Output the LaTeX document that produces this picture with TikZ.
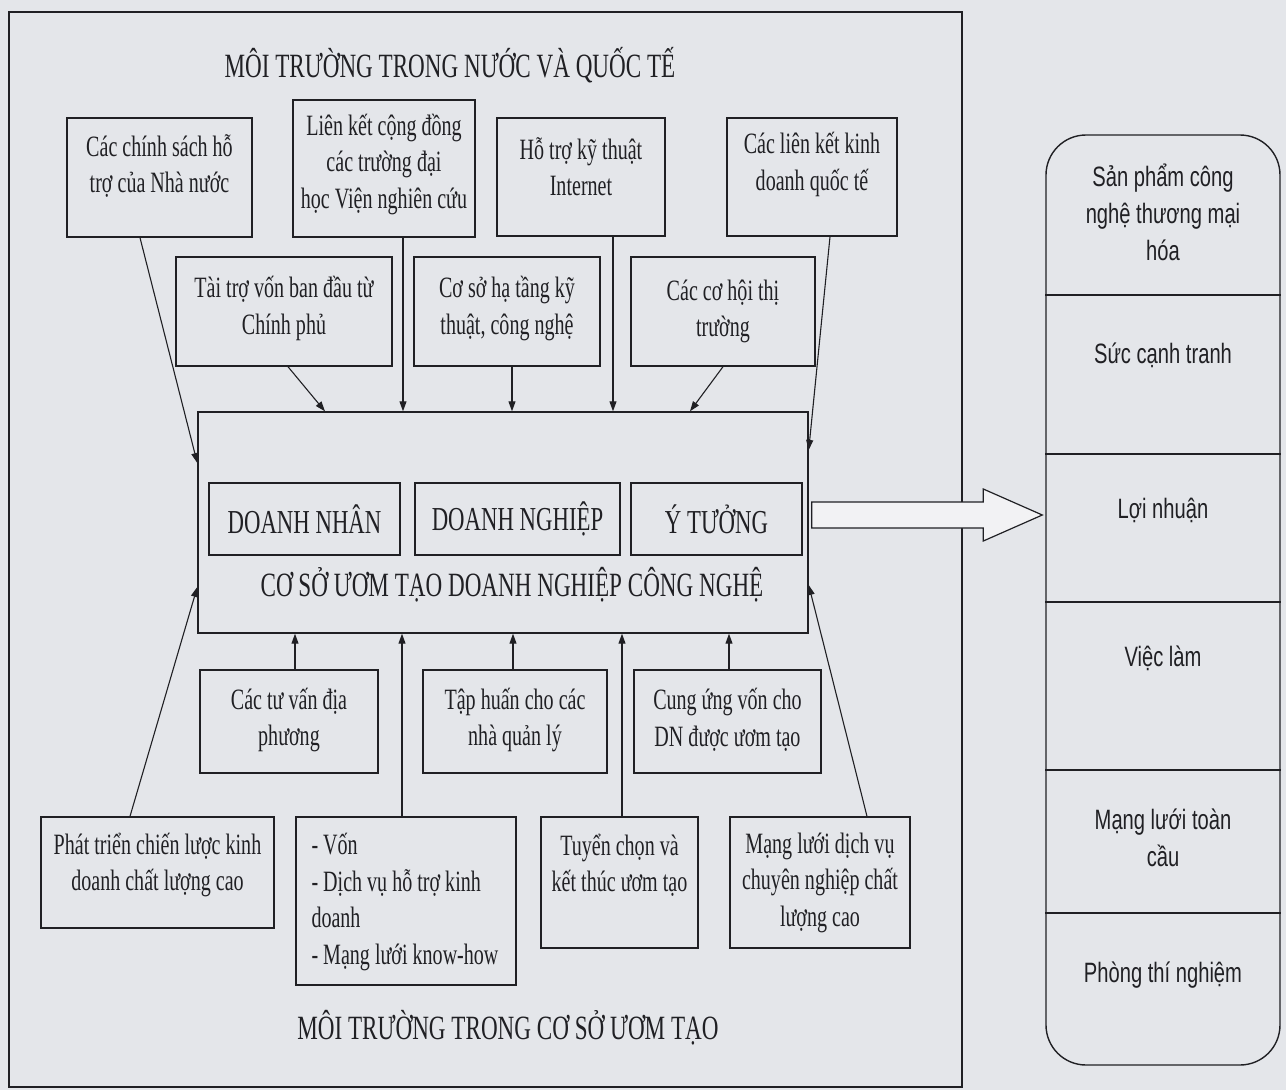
\documentclass[tikz,border=0pt]{standalone}
\usepackage{fontspec}
\setmainfont{Liberation Serif}
\newfontfamily\cserif[FakeStretch=0.68]{Liberation Serif}
\newfontfamily\csans[FakeStretch=0.72]{Liberation Sans}
\usetikzlibrary{arrows.meta,calc}
\definecolor{bg}{RGB}{228,230,234}
\definecolor{ink}{RGB}{32,32,36}
\begin{document}
\begin{tikzpicture}[x=1pt,y=-1pt,
  bx/.style={draw=ink, line width=1.4pt, inner sep=0pt},
  tx/.style={text=ink, align=center, inner sep=0pt, font={\cserif\fontsize{29.5}{36.5}\selectfont}},
  ttl/.style={text=ink, inner sep=0pt, font={\cserif\fontsize{34}{40}\selectfont}},
  captx/.style={text=ink, inner sep=0pt, font={\cserif\fontsize{33.5}{38}\selectfont}},
  sx/.style={text=ink, align=center, inner sep=0pt, font={\csans\fontsize{28}{37}\selectfont}},
  arr/.style={draw=ink, line width=1.1pt, -{Triangle[length=10pt,width=7pt]}}
]
\fill[bg] (0,0) rectangle (1286,1090);
\useasboundingbox (0,0) rectangle (1286,1090);

% outer frame
\node[draw=ink, line width=1.8pt, inner sep=0pt, minimum width=953pt, minimum height=1075pt] (frame) at (485.5,549.5) {};

% titles
\node[ttl] (t1) at (450,65) {MÔI TRƯỜNG TRONG NƯỚC VÀ QUỐC TẾ};
\node[ttl] (t2) at (508,1028) {MÔI TRƯỜNG TRONG CƠ SỞ ƯƠM TẠO};

% top row boxes
\node[bx, minimum width=185pt, minimum height=119pt] (A) at (159.5,177.5) {};
\node[tx] (At) at ([yshift=11.5pt]A.center) {Các chính sách hỗ\\trợ của Nhà nước};
\node[bx, minimum width=182pt, minimum height=137pt] (B) at (384,168.5) {};
\node[tx] (Bt) at ([yshift=4.5pt]B.center) {Liên kết cộng đồng\\các trường đại\\học Viện nghiên cứu};
\node[bx, minimum width=168pt, minimum height=118pt] (C) at (581,177) {};
\node[tx] (Ct) at ([yshift=10.5pt]C.center) {Hỗ trợ kỹ thuật\\Internet};
\node[bx, minimum width=170pt, minimum height=118pt] (D) at (812,177) {};
\node[tx] (Dt) at ([yshift=12.5pt]D.center) {Các liên kết kinh\\doanh quốc tế};

% second row
\node[bx, minimum width=216pt, minimum height=109pt] (E) at (284,311.5) {};
\node[tx] (Et) at ([yshift=3pt]E.center) {Tài trợ vốn ban đầu từ\\Chính phủ};
\node[bx, minimum width=186pt, minimum height=109pt] (F) at (507,311.5) {};
\node[tx] (Ft) at ([yshift=3pt]F.center) {Cơ sở hạ tầng kỹ\\thuật, công nghệ};
\node[bx, minimum width=184pt, minimum height=109pt] (G) at (723,311.5) {};
\node[tx] (Gt) at (G.center) {Các cơ hội thị\\trường};

% central box
\node[bx, minimum width=610pt, minimum height=221pt] (H) at (503,522.5) {};
\node[bx, minimum width=191pt, minimum height=72pt] (N1) at (304.5,519) {};
\node[captx] (N1t) at (N1.center) {DOANH NHÂN};
\node[bx, minimum width=205pt, minimum height=72pt] (N2) at (517.5,519) {};
\node[captx] (N2t) at (N2.center) {DOANH NGHIỆP};
\node[bx, minimum width=171pt, minimum height=72pt] (N3) at (716.5,519) {};
\node[captx] (N3t) at (N3.center) {Ý TƯỞNG};
\node[ttl] (Ht) at ([xshift=9pt,yshift=-62.5pt]H.center) {CƠ SỞ ƯƠM TẠO DOANH NGHIỆP CÔNG NGHỆ};

% lower row 1
\node[bx, minimum width=178pt, minimum height=103pt] (L1) at (289,721.5) {};
\node[tx] (L1t) at ([yshift=1.5pt]L1.center) {Các tư vấn địa\\phương};
\node[bx, minimum width=184pt, minimum height=103pt] (L2) at (515,721.5) {};
\node[tx] (L2t) at ([yshift=1.5pt]L2.center) {Tập huấn cho các\\nhà quản lý};
\node[bx, minimum width=187pt, minimum height=103pt] (L3) at (727.5,721.5) {};
\node[tx] (L3t) at ([yshift=1.5pt]L3.center) {Cung ứng vốn cho\\DN được ươm tạo};

% lower row 2
\node[bx, minimum width=233pt, minimum height=111pt] (P) at (157.5,872.5) {};
\node[tx] (Pt) at ([yshift=7.5pt]P.center) {Phát triển chiến lược kinh\\doanh chất lượng cao};
\node[bx, minimum width=220pt, minimum height=168pt] (V) at (406,901) {};
\node[tx, align=left, anchor=west] (Vt) at ([xshift=16pt,yshift=-1pt]V.west) {- Vốn\\- Dịch vụ hỗ trợ kinh\\doanh\\- Mạng lưới know-how};
\node[bx, minimum width=157pt, minimum height=131pt] (T) at (619.5,882.5) {};
\node[tx] (Tt) at ([yshift=17.5pt]T.center) {Tuyển chọn và\\kết thúc ươm tạo};
\node[bx, minimum width=180pt, minimum height=131pt] (M) at (820,882.5) {};
\node[tx] (Mt) at (M.center) {Mạng lưới dịch vụ\\chuyên nghiệp chất\\lượng cao};

% connectors top
\draw[arr] ([xshift=-19.5pt]A.south) -- ([yshift=59.5pt]H.west);
\draw[arr] ([xshift=19pt]B.south) -- ([xshift=19pt]B.south |- H.north);
\draw[arr] ([xshift=4pt]E.south) -- ([xshift=-178pt]H.north);
\draw[arr] ([xshift=5pt]F.south) -- ([xshift=5pt]F.south |- H.north);
\draw[arr] ([xshift=32pt]C.south) -- ([xshift=32pt]C.south |- H.north);
\draw[arr] (G.south) -- ([xshift=187pt]H.north);
\draw[arr] ([xshift=18pt]D.south) -- ([yshift=72.5pt]H.east);

% connectors bottom
\draw[arr] ([xshift=6pt]L1.north) -- ([xshift=6pt]L1.north |- H.south);
\draw[arr] ([xshift=-4pt]V.north) -- ([xshift=-4pt]V.north |- H.south);
\draw[arr] ([xshift=-2pt]L2.north) -- ([xshift=-2pt]L2.north |- H.south);
\draw[arr] ([xshift=2.5pt]T.north) -- ([xshift=2.5pt]T.north |- H.south);
\draw[arr] ([xshift=1.5pt]L3.north) -- ([xshift=1.5pt]L3.north |- H.south);
\draw[arr] ([xshift=-27.5pt]P.north) -- ([yshift=-64.5pt]H.west);
\draw[arr] ([xshift=47pt]M.north) -- ([yshift=-62.5pt]H.east);

% right outcome panel
\node[draw=ink, line width=1.4pt, rounded corners=40pt, inner sep=0pt, minimum width=234pt, minimum height=930pt] (R) at (1163,600) {};
\foreach \s in {305,146,-2,-170,-313}{
  \draw[ink, line width=1.3pt] ([yshift=\s pt]R.west) -- ([yshift=\s pt]R.east);
}
\node[sx] (r1) at ([yshift=388pt]R.center) {Sản phẩm công\\nghệ thương mại\\hóa};
\node[sx] (r2) at ([yshift=245pt]R.center) {Sức cạnh tranh};
\node[sx] (r3) at ([yshift=90pt]R.center) {Lợi nhuận};
\node[sx] (r4) at ([yshift=-58pt]R.center) {Việc làm};
\node[sx] (r5) at ([yshift=-238pt]R.center) {Mạng lưới toàn\\cầu};
\node[sx] (r6) at ([yshift=-375pt]R.center) {Phòng thí nghiệm};

% big hollow arrow
\coordinate (as) at ([xshift=3pt,yshift=7.5pt]H.east);
\coordinate (ae0) at (R.west |- as);
\coordinate (ae) at ([xshift=-3pt]ae0);
\draw[ink, line width=1.2pt, fill=bg!50!white, line join=miter]
  ($(as)+(0,-13)$) -- ($(ae)+(-59,-13)$) -- ($(ae)+(-59,-26)$) -- (ae)
  -- ($(ae)+(-59,26)$) -- ($(ae)+(-59,13)$) -- ($(as)+(0,13)$) -- cycle;
\end{tikzpicture}
\end{document}
